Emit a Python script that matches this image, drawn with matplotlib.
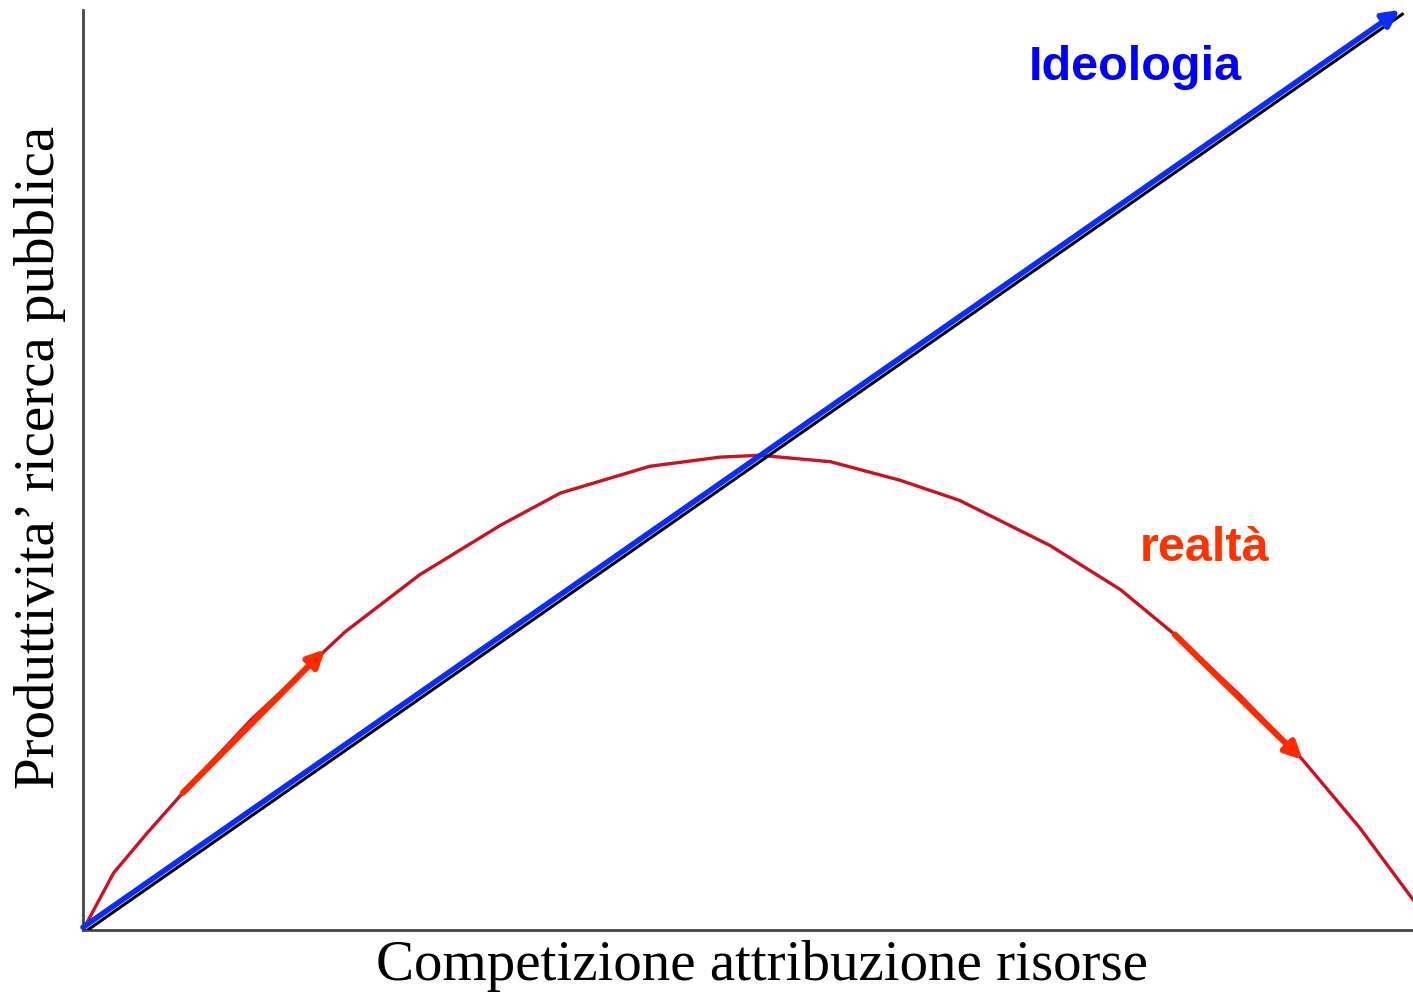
import numpy as np
import matplotlib
matplotlib.use("Agg")
import matplotlib.pyplot as plt

# ============================== Data ==========================================
# curva "realtà" (x, y in 0..100)
x_real = [0, 2.3, 4.8, 7.5, 12.6, 19.7, 25.3, 31.4, 35.9, 42.6, 47.9, 50.9,
          56.2, 61.4, 65.9, 72.7, 78.0, 82.1, 87.0, 91.7, 96.0, 100]
y_real = [0, 6.2, 10.5, 14.9, 22.8, 32.4, 38.6, 44.0, 47.5, 50.4, 51.4, 51.6,
          50.9, 48.9, 46.7, 41.8, 37.0, 32.1, 25.5, 18.5, 11.1, 3.3]

# retta "Ideologia"
x_ideo = [0, 99]
y_ideo = [0.3, 100]

# frecce rosse sulla curva
arr_up = [(7.5, 14.9), (18.2, 30.5)]
arr_down = [(82.1, 32.1), (91.7, 18.5)]

# ============================== Plot ==========================================
fig = plt.figure(figsize=(14.13, 9.99), dpi=100)
ax = fig.add_axes([83/1413, 69/999, 1330/1413, 920/999])

ax.plot(x_real, y_real, color='#cc1122', lw=2.4, zorder=2)

# ombra nera sotto la retta blu
ax.plot(np.array(x_ideo) + 0.2, np.array(y_ideo) - 0.45, color='black', lw=2.2, zorder=3)
ax.annotate('', xy=(x_ideo[1], y_ideo[1]), xytext=(x_ideo[0], y_ideo[0]),
            arrowprops=dict(arrowstyle='-|>', color='#0a2cff', lw=4,
                            mutation_scale=25, shrinkA=0, shrinkB=0), zorder=4)

for (a, b) in [arr_up, arr_down]:
    ax.annotate('', xy=b, xytext=a,
                arrowprops=dict(arrowstyle='-|>', color='#ff2a00', lw=4.5,
                                mutation_scale=25, shrinkA=0, shrinkB=0), zorder=5)

ax.text(79.1, 93.7, 'Ideologia', color='#0000ff', fontsize=35, fontweight='bold',
        family='Liberation Sans', ha='center', va='center')
ax.text(84.3, 41.5, 'realtà', color='#ff3300', fontsize=35, fontweight='bold',
        family='Liberation Sans', ha='center', va='center')

ax.set_xlim(0, 100)
ax.set_ylim(0, 100)
ax.set_xticks([])
ax.set_yticks([])
ax.spines['top'].set_visible(False)
ax.spines['right'].set_visible(False)
ax.spines['left'].set_color('#444444')
ax.spines['bottom'].set_color('#444444')
ax.spines['left'].set_linewidth(2)
ax.spines['bottom'].set_linewidth(2)

# etichette degli assi
fig.text(762 / 1413, 1 - 966 / 999, 'Competizione attribuzione risorse',
         family='Liberation Serif', fontsize=41, ha='center', va='center')
fig.text(40 / 1413, 1 - 457 / 999, 'Produttivita’ ricerca pubblica',
         family='Liberation Serif', fontsize=41, ha='center', va='center',
         rotation=90)

plt.savefig('out.png', dpi=100)
